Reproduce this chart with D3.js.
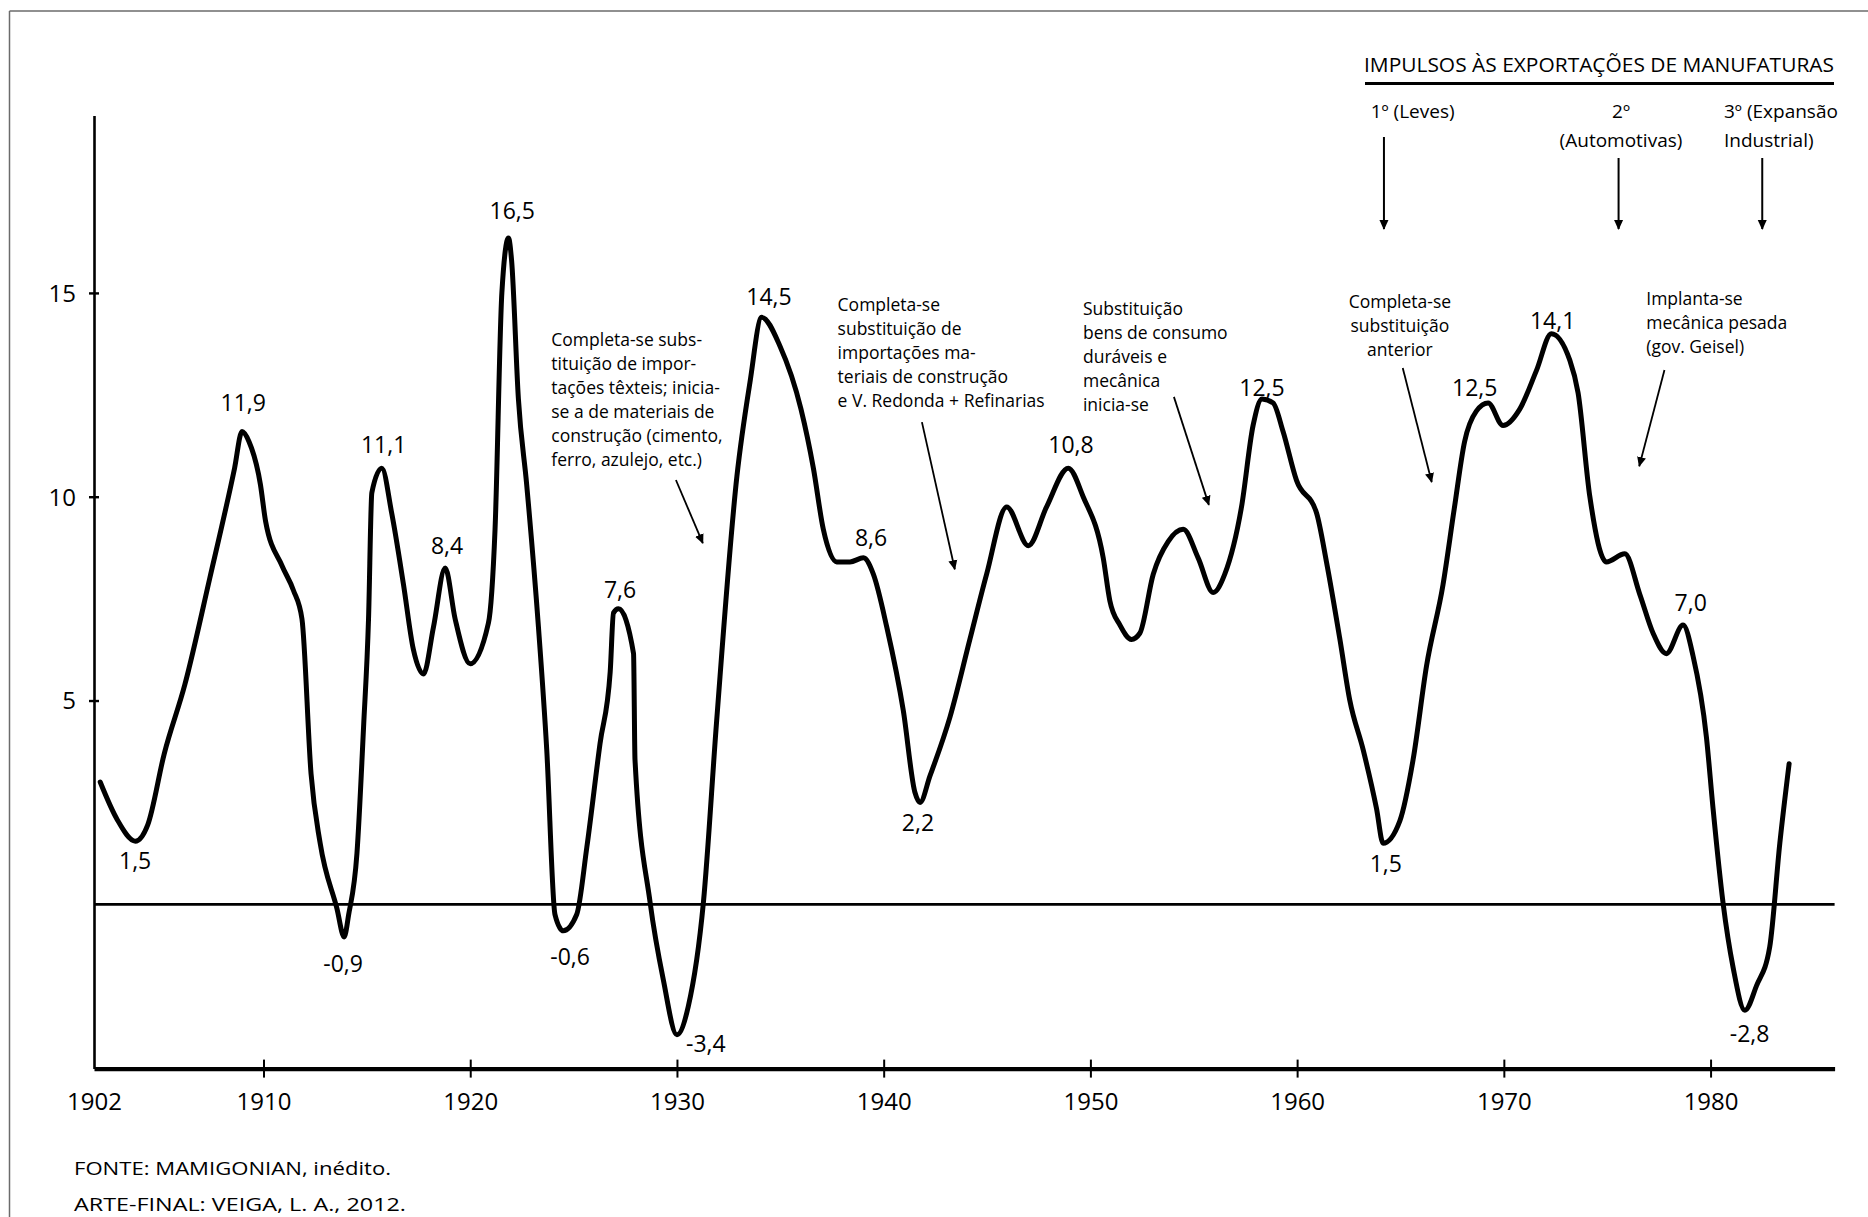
<!DOCTYPE html>
<html><head><meta charset="utf-8">
<script src="https://cdn.jsdelivr.net/npm/d3@7"></script>
<style>
body{margin:0;background:#fff;}
svg{display:block;font-family:"Open Sans",sans-serif;}
</style></head>
<body>
<svg id="chart" width="1868" height="1217"></svg>
<script>
// ---- data ----
const years = [1902.1,1902.9,1903.8,1904.4,1905.2,1906.2,1907.4,1908.6,1908.96,1909.3,1909.85,1910.1,1910.9,1911.45,1911.86,1912.3,1912.74,1913.55,1913.9,1914.12,1914.52,1914.84,1915.08,1915.24,1915.72,1916.2,1916.77,1917.25,1917.74,1918.22,1918.79,1919.27,1920.0,1920.88,1921.2,1921.53,1921.85,1922.0,1922.33,1922.73,1923.3,1923.7,1924.1,1924.5,1925.15,1925.64,1926.28,1926.77,1926.93,1927.17,1927.9,1927.97,1928.7,1929.34,1930.0,1930.55,1931.28,1931.92,1932.9,1933.53,1934.1,1934.98,1936.0,1936.6,1937.08,1937.73,1938.37,1939.02,1939.5,1940.15,1940.95,1941.51,1941.76,1942.24,1943.21,1944.17,1944.98,1945.95,1947.0,1947.88,1948.93,1949.65,1950.62,1950.94,1951.43,1951.99,1952.39,1953.04,1953.76,1954.49,1955.21,1955.94,1956.5,1957.31,1957.87,1958.3,1958.84,1959.32,1959.97,1960.94,1961.42,1962.07,1962.55,1963.19,1963.84,1964.16,1964.97,1965.61,1966.26,1967.06,1967.6,1968.1,1968.67,1969.24,1969.96,1970.77,1971.58,1972.3,1973.19,1973.59,1974.16,1974.96,1975.85,1976.58,1977.22,1977.86,1978.67,1979.15,1979.8,1980.12,1980.6,1981.09,1981.66,1982.22,1982.86,1983.35,1983.8];
const values = [3.0,2.1,1.55,1.95,3.7,5.4,8.0,10.7,11.6,11.35,10.3,9.4,8.3,7.7,7.0,3.2,1.5,-0.1,-0.8,-0.25,1.25,4.35,7.0,10.1,10.7,9.6,7.85,6.25,5.65,6.8,8.25,7.0,5.9,6.9,9.2,15.0,16.35,15.8,12.4,10.3,6.8,3.8,-0.25,-0.65,-0.25,1.4,3.95,5.7,7.15,7.25,6.15,3.55,0.05,-1.85,-3.2,-2.5,0.05,4.5,10.5,12.8,14.4,13.7,12.15,10.7,9.2,8.4,8.4,8.5,8.1,6.8,4.75,2.75,2.5,3.15,4.6,6.5,8.1,9.75,8.8,9.75,10.7,10.0,8.5,7.45,6.85,6.5,6.65,8.1,8.9,9.2,8.5,7.65,8.1,9.75,11.75,12.4,12.3,11.6,10.4,9.6,8.4,6.5,5.0,3.8,2.35,1.5,2.05,3.55,5.85,7.85,9.7,11.35,12.1,12.3,11.75,12.15,13.1,14.0,13.35,12.55,10.0,8.4,8.6,7.6,6.65,6.15,6.85,6.1,4.1,2.35,0.05,-1.55,-2.6,-2.0,-1.05,1.5,3.45];

const xTickYears = [1910,1920,1930,1940,1950,1960,1970,1980];
const yTickValues = [5,10,15];

const peakLabels = ["1,5","11,9","-0,9","11,1","8,4","16,5","-0,6","7,6","-3,4","14,5","8,6","2,2","10,8","12,5","1,5","12,5","14,1","7,0","-2,8"];
const peakLabelYears = [1903.79,1909.02,1913.85,1915.81,1918.88,1922.03,1924.83,1927.25,1931.40,1934.45,1939.39,1941.66,1949.06,1958.30,1964.29,1968.59,1972.36,1979.04,1981.89];
const peakLabelValues = [1.06,12.30,-1.47,11.27,8.79,17.01,-1.30,7.71,-3.43,14.90,8.99,2.00,11.27,12.67,0.99,12.67,14.30,7.39,-3.19];

const notes = [
  ["Completa-se subs-","tituição de impor-","tações têxteis; inicia-","se a de materiais de","construção (cimento,","ferro, azulejo, etc.)"],
  ["Completa-se","substituição de","importações ma-","teriais de construção","e V. Redonda + Refinarias"],
  ["Substituição","bens de consumo","duráveis e","mecânica","inicia-se"],
  ["Completa-se","substituição","anterior"],
  ["Implanta-se","mecânica pesada","(gov. Geisel)"]
];
const noteYears = [1923.92,1937.77,1949.64,1964.97,1976.89];
const noteValues = [13.85,14.70,14.62,14.79,14.86];
const noteAlign = ["start","start","start","middle","start"];
const noteArrowFrom = [[1929.95,10.41],[1941.85,11.83],[1954.04,12.45],[1965.11,13.16],[1977.77,13.11]];
const noteArrowTo = [[1931.25,8.86],[1943.44,8.22],[1955.73,9.80],[1966.51,10.36],[1976.55,10.75]];

const headerTitle = "IMPULSOS ÀS EXPORTAÇÕES DE MANUFATURAS";
const impulseYears = [1964.2,1975.55,1982.5];
const impulseLabels = [["1º (Leves)"],["2º","(Automotivas)"],["3º (Expansão","Industrial)"]];

const sourceLines = ["FONTE: MAMIGONIAN, inédito.","ARTE-FINAL: VEIGA, L. A., 2012."];

// ---- drawing ----
const svg = d3.select("#chart");
const x = d3.scaleLinear().domain([1901.8,1986]).range([94,1834.6]);
const y = d3.scaleLinear().domain([-4.03,19.35]).range([1068.6,115.6]);

// frame
svg.append("line").attr("x1",9.5).attr("x2",1868).attr("y1",11).attr("y2",11).attr("stroke","#6b6b6b").attr("stroke-width",1.5);
svg.append("line").attr("x1",9.5).attr("x2",9.5).attr("y1",11).attr("y2",1217).attr("stroke","#6b6b6b").attr("stroke-width",1.5);

svg.append("defs").append("marker").attr("id","ah").attr("viewBox","0 0 10 10")
  .attr("refX",9).attr("refY",5).attr("markerWidth",10).attr("markerHeight",10)
  .attr("markerUnits","userSpaceOnUse").attr("orient","auto")
  .append("path").attr("d","M0,0.5 L10,5 L0,9.5 Z").attr("fill","#000");

// zero line
svg.append("line").attr("x1",x(1901.8)).attr("x2",x(1986)).attr("y1",y(0)).attr("y2",y(0))
  .attr("stroke","#000").attr("stroke-width",2.6);

// x axis
const xAxis = svg.append("g").attr("transform",`translate(0,${y(-4.03)})`)
  .call(d3.axisBottom(x).tickValues([1901.8].concat(xTickYears)).tickSizeOuter(0)
    .tickFormat(d => d===1901.8 ? "1902" : String(d)));
xAxis.select(".domain").attr("stroke","#000").attr("stroke-width",4.2);
xAxis.selectAll(".tick line").attr("y1",-9).attr("y2",9).attr("stroke-width",2)
  .attr("display",d => d===1901.8 ? "none" : null);
xAxis.selectAll(".tick text").attr("y",33).attr("dy","0.35em")
  .attr("font-size",24).attr("font-family","Open Sans").attr("fill","#000");

// y axis
const yAxis = svg.append("g").attr("transform",`translate(${x(1901.8)},0)`)
  .call(d3.axisLeft(y).tickValues(yTickValues).tickSizeOuter(0));
yAxis.select(".domain").attr("stroke","#000").attr("stroke-width",2.6);
yAxis.selectAll(".tick line").attr("x1",-5).attr("x2",5).attr("stroke-width",2.4);
yAxis.selectAll(".tick text").attr("x",-18).attr("dy","0.35em")
  .attr("font-size",24).attr("font-family","Open Sans").attr("fill","#000");

// curve
const pts = years.map((yr,i)=>[yr,values[i]]);
svg.append("path").datum(pts)
  .attr("d",d3.line().x(d=>x(d[0])).y(d=>y(d[1])).curve(d3.curveMonotoneX))
  .attr("fill","none").attr("stroke","#000").attr("stroke-width",5)
  .attr("stroke-linejoin","round").attr("stroke-linecap","round");

// peak labels
svg.append("g").selectAll("text").data(peakLabels).join("text")
  .attr("x",(d,i)=>x(peakLabelYears[i])).attr("y",(d,i)=>y(peakLabelValues[i]))
  .attr("dy","0.35em").attr("text-anchor","middle")
  .attr("font-size",23).attr("fill","#000").text(d=>d);

// annotations
notes.forEach((lines,i)=>{
  const t = svg.append("text").attr("font-size",17.5).attr("fill","#000")
    .attr("text-anchor",noteAlign[i]);
  lines.forEach((ln,j)=>{
    t.append("tspan").attr("x",x(noteYears[i])).attr("y",y(noteValues[i]) + j*24)
      .attr("dy","0.35em").text(ln);
  });
  svg.append("line")
    .attr("x1",x(noteArrowFrom[i][0])).attr("y1",y(noteArrowFrom[i][1]))
    .attr("x2",x(noteArrowTo[i][0])).attr("y2",y(noteArrowTo[i][1]))
    .attr("stroke","#000").attr("stroke-width",1.8).attr("marker-end","url(#ah)");
});

// header
svg.append("text").attr("x",1364).attr("y",65).attr("dy","0.35em")
  .attr("font-size",20).attr("textLength",470).attr("lengthAdjust","spacingAndGlyphs")
  .attr("fill","#000").text(headerTitle);
svg.append("line").attr("x1",1365).attr("x2",1834).attr("y1",83.5).attr("y2",83.5)
  .attr("stroke","#000").attr("stroke-width",3);

const impX = [[1370.7,"start"],[1621,"middle"],[1724,"start"]];
impulseLabels.forEach((lines,i)=>{
  const t = svg.append("text").attr("font-size",19).attr("fill","#000").attr("text-anchor",impX[i][1]);
  lines.forEach((ln,j)=>{
    t.append("tspan").attr("x",impX[i][0]).attr("y",111.7 + j*28.3).attr("dy","0.35em").text(ln);
  });
  svg.append("line").attr("x1",x(impulseYears[i])).attr("x2",x(impulseYears[i]))
    .attr("y1",i===0?137:158).attr("y2",229)
    .attr("stroke","#000").attr("stroke-width",2).attr("marker-end","url(#ah)");
});

// source
sourceLines.forEach((s,i)=>{
  svg.append("text").attr("x",74).attr("y",1168 + i*36).attr("dy","0.35em")
    .attr("font-size",19).attr("fill","#000")
    .attr("textLength",i===0?317:332).attr("lengthAdjust","spacingAndGlyphs").text(s);
});
</script>
</body></html>
